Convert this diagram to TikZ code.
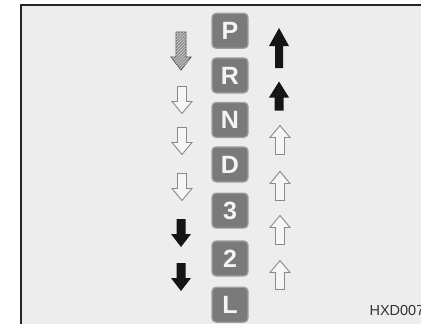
\documentclass[tikz,border=0pt]{standalone}
\usepackage{fontspec}
\setmainfont{Liberation Sans}
\usetikzlibrary{positioning, patterns}
\definecolor{panelgray}{HTML}{EDEDED}
\definecolor{keygray}{HTML}{7A7A7A}
\definecolor{keyrim}{HTML}{A0A0A0}
\definecolor{keytext}{HTML}{F4F4F4}
\definecolor{outlinegray}{HTML}{8A8A8A}
\definecolor{arrowblack}{HTML}{151515}

% arrow shape: length / head length / half shaft width / style
\tikzset{
  pics/shiftarrow/.style args={#1/#2/#3/#4}{code={%
    \path[#4] (-#3,-#1/2) -- (-#3,#1/2-#2) -- (-10,#1/2-#2) -- (0,#1/2)
      -- (10,#1/2-#2) -- (#3,#1/2-#2) -- (#3,-#1/2) -- cycle;
  }}
}

\begin{document}
\begin{tikzpicture}[
    x=1pt, y=1pt,
    gearkey/.style={draw=keyrim, line width=1.2pt, fill=keygray, rounded corners=4pt,
      minimum width=36pt, minimum height=35pt, inner sep=0pt, text=keytext,
      font=\fontsize{25}{25}\selectfont\bfseries},
    solidarrow/.style={fill=arrowblack},
    hollowarrow/.style={draw=outlinegray, line width=0.9pt, fill=white!50!panelgray},
    hatcharrow/.style={draw=gray!60!black, line width=0.8pt, fill=gray!85,
      postaction={pattern=north east lines, pattern color=gray!40}}
]
    \clip (0,0) rectangle (421,-324);
    \fill[white] (0,0) rectangle (421,-324);
    \draw[line width=2pt, draw=black!85, fill=panelgray] (21,-5) rectangle (440,-340);

    % selector positions
    \node[gearkey] (keyP) at (230,-30.8) {P};
    \node[gearkey, below=8.4pt of keyP] (keyR) {R};
    \node[gearkey, below=8.3pt of keyR] (keyN) {N};
    \node[gearkey, below=8.3pt of keyN] (keyD) {D};
    \node[gearkey, below=10pt of keyD] (key3) {3};
    \node[gearkey, below=11.7pt of key3] (key2) {2};
    \node[gearkey, below=10pt of key2] (keyL) {L};

    % shifting down
    \pic[yscale=-1] at (181,-51) {shiftarrow=38/13/5/hatcharrow};
    \pic[yscale=-1] at (182,-100) {shiftarrow=27/12/4.5/hollowarrow};
    \pic[yscale=-1] at (182,-141) {shiftarrow=27/12/4.5/hollowarrow};
    \pic[yscale=-1] at (182,-187) {shiftarrow=27/12/4.5/hollowarrow};
    \pic[yscale=-1] at (181,-233) {shiftarrow=28/13/4.5/solidarrow};
    \pic[yscale=-1] at (181,-277) {shiftarrow=28/13/4.5/solidarrow};

    % shifting up
    \pic at (279,-48) {shiftarrow=40/18/4/solidarrow};
    \pic at (279,-96) {shiftarrow=29/16/4.5/solidarrow};
    \pic at (280,-140) {shiftarrow=29/12/4.5/hollowarrow};
    \pic at (280,-186) {shiftarrow=29/12/4.5/hollowarrow};
    \pic at (280,-230) {shiftarrow=29/12/4.5/hollowarrow};
    \pic at (280,-275) {shiftarrow=29/12/4.5/hollowarrow};

    \node[anchor=base west, font=\fontsize{14.5}{14.5}\selectfont, text=black!80]
      (figcode) at (366,-315) {HXD007};
\end{tikzpicture}
\end{document}
